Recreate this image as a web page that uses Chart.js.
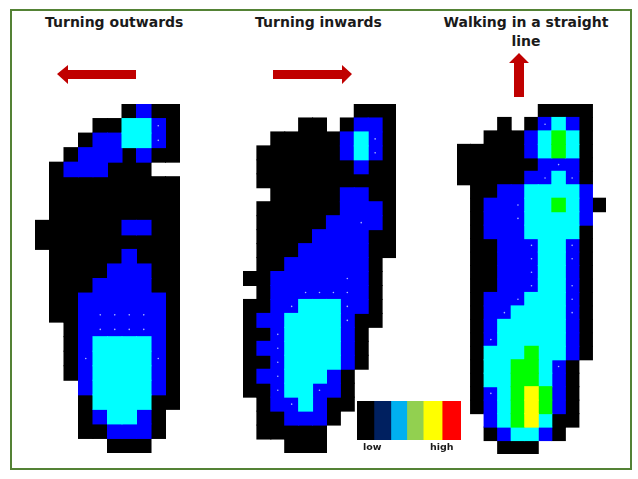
<!DOCTYPE html>
<html>
<head>
<meta charset="utf-8">
<script src="https://cdn.jsdelivr.net/npm/chart.js@4"></script>
<style>
  html, body { margin: 0; padding: 0; background: #fff; }
  #page { position: relative; width: 638px; height: 479px; overflow: hidden; }
  #frame { position: absolute; left: 10px; top: 9px; width: 618px; height: 457px; border: 2px solid #548235; }
  canvas { position: absolute; }
  #arrows { position: absolute; left: 0; top: 0; }
  .caption { position: absolute; font: bold 14px "DejaVu Sans", sans-serif; color: #1a1a1a; text-align: center; white-space: nowrap; }
  .small { font-size: 9.5px; }
</style>
</head>
<body>
<div id="page">
  <div id="frame"></div>
  <div class="caption" style="left:45px;top:14px;width:138px">Turning outwards</div>
  <div class="caption" style="left:255px;top:14px;width:127px">Turning inwards</div>
  <div class="caption" style="left:440px;top:13px;width:172px;line-height:19px">Walking in a straight<br>line</div>
  <svg id="arrows" width="638" height="479">
    <polygon fill="#c00000" points="57,74 68,65 68,70 136,70 136,79 68,79 68,84"/>
    <polygon fill="#c00000" points="352,74 342,65 342,70 273,70 273,79 342,79 342,84"/>
    <polygon fill="#c00000" points="519,53 529,63 524,63 524,97 514,97 514,63 509,63"/>
  </svg>
  <canvas id="foot1" width="145" height="349" style="left:35px;top:104px"></canvas>
  <canvas id="foot2" width="153" height="349" style="left:243px;top:104px"></canvas>
  <canvas id="foot3" width="149" height="350" style="left:457px;top:104px"></canvas>
  <canvas id="scale" width="104" height="39" style="left:357px;top:401px"></canvas>
  <div class="caption small" style="left:363px;top:441px">low</div>
  <div class="caption small" style="left:430px;top:441px">high</div>
</div>
<script>
// pressure level per sensor, one string per row. "." = no sensor, 0 black .. 4 yellow
const turningOutwards = [
  "......0100",
  "....002210",
  "...0112210",
  "..01110100",
  ".0111000..",
  ".000000000",
  ".000000000",
  ".000000000",
  "0000001100",
  "0000000000",
  ".000001000",
  ".000011100",
  ".000111100",
  ".001111110",
  ".001111110",
  "..01111110",
  "..01222210",
  "..01222210",
  "..01222210",
  "...1222210",
  "...0222200",
  "...012210.",
  "...001110.",
  ".....000..",
];
const turningInwards = [
  "........000",
  "....00.0110",
  "..000001210",
  ".0000001210",
  ".0000000100",
  ".0000000000",
  "..000001100",
  ".0000001110",
  ".0000011110",
  ".0000111100",
  ".0001111100",
  ".001111110.",
  "0011111110.",
  ".011111110.",
  "0011222110.",
  "0112222100.",
  "001222210..",
  "011222210..",
  "001222210..",
  "01122210...",
  "00122110...",
  ".0112100...",
  ".001110....",
  ".00000.....",
  "...000.....",
];
const walkingStraight = [
  "......0000.",
  "...0.01210.",
  "..00012320.",
  "0000012320.",
  "0000001110.",
  "0000011210.",
  ".001122221.",
  ".0111223210",
  ".011122221.",
  ".011122220.",
  ".001112210.",
  ".001112210.",
  ".001112210.",
  ".001112210.",
  ".011122210.",
  ".011222210.",
  ".012222210.",
  ".012222210.",
  ".022232210.",
  ".02233210..",
  ".02233210..",
  ".01234310..",
  ".01234310..",
  "..1234200..",
  "..012210...",
  "...000.....",
];
// pale sensor dots, [column, row]
const outwardsDots = [[8,1],[8,2],[4,14],[5,14],[6,14],[7,14],[4,15],[5,15],[6,15],[7,15],[3,17],[8,17]];
const inwardsDots = [[9,2],[9,3],[8,8],[7,12],[4,13],[5,13],[6,13],[7,13],[3,14],[7,14],[7,15],[2,16],[2,17],[2,18],[2,19],[2,20],[5,20],[3,21]];
const straightDots = [[6,1],[7,4],[6,5],[8,5],[4,7],[4,8],[5,10],[8,10],[5,11],[8,11],[5,12],[5,13],[8,13],[4,14],[8,14],[3,15],[8,15],[2,17],[7,19],[2,21]];

const levelColors = ["#000000", "#0000ff", "#00ffff", "#00ff00", "#ffff00"];
const scaleWidths = [17, 17, 16, 16.5, 19, 19];
const scaleColors = ["#000000", "#002060", "#00b0f0", "#92d050", "#ffff00", "#ff0000"];

function levelPoints(grid, level) {
  let points = [];
  grid.forEach((row, r) => {
    [...row].forEach((cell, c) => {
      if (cell === String(level)) points.push({ x: c + 0.5, y: r + 0.5 });
    });
  });
  return points;
}

// square big enough to fill one cell of the scale, a bit over so no seams show
function cellRadius(ctx) {
  const sc = ctx.chart.scales;
  const w = Math.abs(sc.x.getPixelForValue(1) - sc.x.getPixelForValue(0));
  const h = Math.abs(sc.y.getPixelForValue(1) - sc.y.getPixelForValue(0));
  return (Math.max(w, h) + 1) / Math.SQRT2;
}

function footChart(id, grid, dots) {
  const datasets = levelColors.map((color, level) => ({
    data: levelPoints(grid, level),
    pointStyle: "rect",
    pointRadius: cellRadius,
    pointBackgroundColor: color,
    pointBorderWidth: 0,
    order: levelColors.length - level,
    clip: false,
  }));
  datasets.push({
    data: dots.map((d) => ({ x: d[0] + 0.5, y: d[1] + 0.5 })),
    pointRadius: 0.8,
    pointBackgroundColor: "#a9b4ff",
    pointBorderWidth: 0,
    order: 0,
    clip: false,
  });
  return new Chart(document.getElementById(id), {
    type: "scatter",
    data: { datasets: datasets },
    options: {
      responsive: false,
      animation: false,
      layout: { autoPadding: false },
      plugins: { legend: { display: false }, tooltip: { enabled: false } },
      scales: {
        x: { type: "linear", display: false, min: 0, max: grid[0].length },
        y: { type: "linear", display: false, min: 0, max: grid.length, reverse: true },
      },
    },
  });
}

footChart("foot1", turningOutwards, outwardsDots);
footChart("foot2", turningInwards, inwardsDots);
footChart("foot3", walkingStraight, straightDots);

new Chart(document.getElementById("scale"), {
  type: "bar",
  data: {
    labels: ["pressure"],
    datasets: scaleWidths.map((w, i) => ({
      data: [w],
      backgroundColor: scaleColors[i],
      categoryPercentage: 1,
      barPercentage: 1,
    })),
  },
  options: {
    indexAxis: "y",
    responsive: false,
    animation: false,
    plugins: { legend: { display: false }, tooltip: { enabled: false } },
    scales: {
      x: { stacked: true, display: false, min: 0, max: scaleWidths.reduce((a, b) => a + b, 0) },
      y: { stacked: true, display: false },
    },
  },
});
</script>
</body>
</html>
